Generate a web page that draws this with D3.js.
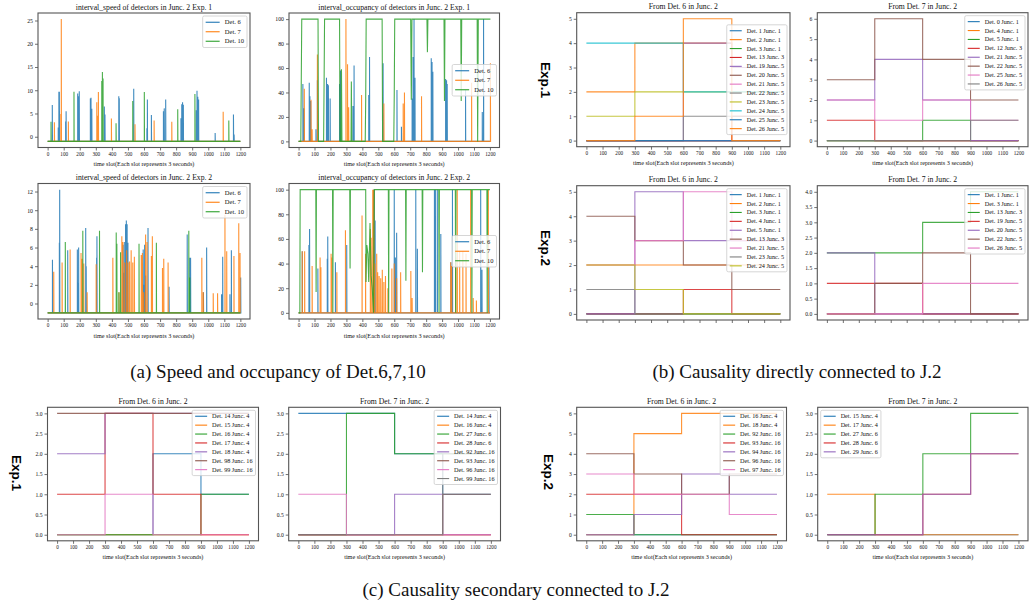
<!DOCTYPE html>
<html>
<head>
<meta charset="utf-8">
<script src="https://cdn.jsdelivr.net/npm/d3@7"></script>
<style>
body { margin: 0; background: #fff; }
svg { display: block; }
</style>
</head>
<body>
<svg id="fig" width="1030" height="605"></svg>
<script>
// ---- data ----
var slotTicks = [0, 100, 200, 300, 400, 500, 600, 700, 800, 900, 1000, 1100, 1200]
var stepSlots = [0, 300, 600, 900, 1200]
var detNames = ['Det. 6', 'Det. 7', 'Det. 10']

// interval speed, Exp. 1  ([time slot, value], baseline -1)
var speed1Det6 = [[29,6.8],[66,2],[70,9.7],[73,9.7],[112,3.3],[115,5.5],[187,9.3],[192,8.7],[197,9.8],[266,8.2],[270,8.4],[275,6],[353,6.5],[357,4.8],[443,8.7],[446,8.3],[536,10.3],[618,1.8],[621,8],[646,4.7],[721,5.5],[726,6.1],[735,8],[830,4],[835,7],[840,7.4],[845,6.9],[925,5.7],[930,9.9],[935,8.6],[940,8],[1043,0.8],[1157,4.8],[1161,0.5]]
var speed1Det7 = [[42,3.1],[82,4.9],[85,25.3],[129,3.3],[306,7.4],[310,4.5],[316,9.6],[397,3.9],[544,2.7],[663,3.5],[773,3.2],[1093,5.4]]
var speed1Det10 = [[21,3.2],[164,9.7],[337,12],[341,13.9],[345,12.5],[426,2.9],[530,7.7],[602,9.6],[810,5.9],[917,9.2],[1128,3.5]]

// interval occupancy, Exp. 1
var occ1Det6 = [[27,47],[33,27],[67,48],[71,37],[76,33],[109,10],[118,50],[175,52],[182,47],[187,46],[198,35],[257,47],[263,58],[341,29],[348,62],[440,38],[445,69],[530,64],[617,42],[645,12],[712,35],[718,69],[724,100],[730,52],[832,68],[837,65],[842,57],[922,51],[928,50],[932,47],[1047,42],[1152,24],[1160,100]]
var occ1Det7 = [[36,43],[78,34],[85,10],[118,71],[297,100],[307,63],[314,28],[395,38],[535,31],[656,31],[664,40],[771,37],[1085,48],[1203,64]]
var occ1Det10 = [[0,0],[14,0],[17,51],[20,100],[122,100],[125,0],[157,0],[160,47],[163,100],[257,100],[260,0],[267,0],[269,59],[272,0],[329,0],[331,49],[334,0],[418,0],[421,34],[424,100],[524,100],[527,0],[597,0],[600,38],[603,100],[703,100],[707,34],[711,100],[805,100],[808,73],[811,100],[912,100],[915,33],[918,100],[1017,100],[1020,33],[1023,100],[1120,100],[1123,0],[1127,100],[1203,100]]

// interval speed, Exp. 2
var speed2Det6 = [[30,4.7],[73,6.5],[75,12.2],[125,5.7],[185,5.8],[190,2.2],[193,6.0],[237,8.1],[240,4],[305,4.9],[307,7.2],[470,6.3],[475,3.3],[480,6.6],[485,8.5],[490,8.9],[495,8.5],[500,6.5],[595,5.8],[600,2],[604,6.3],[610,3],[625,8.1],[756,1.8],[869,7.4],[885,4.9],[890,4.9],[970,1.2],[990,6],[1083,1],[1090,5],[1135,1],[1144,5.7],[1202,2.8]]
var speed2Det7 = [[38,3.4],[90,4.4],[140,5.8],[208,5.4],[215,4.8],[225,4.3],[246,1.2],[302,4.2],[406,4.9],[444,1.2],[462,7.2],[469,6.6],[480,4.4],[492,5.7],[500,4.4],[510,4.5],[520,5.7],[530,4.4],[540,5.0],[583,5.2],[590,5.4],[598,1.2],[610,7.4],[619,6.6],[646,5.1],[652,7.2],[715,3.8],[723,4.8],[750,4.4],[960,4.9],[969,1.2],[1031,1.1],[1058,1.1],[1104,9.5],[1115,5.6],[1160,5.1],[1190,8.6],[1198,5.4]]
var speed2Det10 = [[110,6.6],[219,7.8],[323,7.8],[427,7.6],[431,6.4],[444,1.2],[454,5.5],[569,6.4],[677,6.5],[879,7.8],[885,2.8]]

// interval occupancy, Exp. 2
var occ2Det6 = [[23,50],[65,55],[69,68],[121,36],[180,44],[183,62],[231,41],[302,55],[470,100],[475,100],[480,75],[600,100],[607,45],[615,65],[735,100],[745,52],[852,100],[858,100],[870,100],[892,64],[955,41],[965,100],[1142,100],[1150,35],[1194,37]]
var occ2Det7 = [[23,50],[38,50],[85,38],[135,45],[140,37],[204,48],[208,45],[240,33],[294,67],[398,79],[420,48],[450,68],[455,61],[465,100],[472,100],[478,40],[490,48],[496,33],[505,30],[515,28],[525,35],[535,25],[545,30],[560,20],[585,36],[600,40],[615,28],[640,33],[704,34],[712,12],[954,41],[960,38],[985,45],[995,100],[1010,50],[1030,50],[1050,48],[1079,100],[1095,12],[1115,10],[1190,100]]
var occ2Det10 = [[0,0],[8,0],[10,100],[108,100],[110,17],[112,100],[213,100],[215,0],[217,100],[321,100],[323,36],[325,100],[421,100],[423,25],[428,55],[435,48],[440,25],[448,73],[455,30],[462,20],[470,0],[475,100],[563,100],[565,0],[567,100],[671,100],[673,26],[675,100],[775,100],[777,33],[779,100],[879,100],[881,0],[883,100],[983,100],[985,0],[987,100],[1085,100],[1087,0],[1089,100],[1181,100],[1183,0],[1185,100],[1200,100]]

// causality counts per 300-slot window
var b1Labels = ['Det. 1 Junc. 1','Det. 2 Junc. 1','Det. 3 Junc. 1','Det. 13 Junc. 3','Det. 19 Junc. 5','Det. 20 Junc. 5','Det. 21 Junc. 5','Det. 22 Junc. 5','Det. 23 Junc. 5','Det. 24 Junc. 5','Det. 25 Junc. 5','Det. 26 Junc. 5']
var b1Values = [[0,0,0,0],[2,4,4,3],[0,0,0,0],[0,0,0,1],[0,0,4,3],[0,0,0,0],[0,0,0,0],[0,0,1,1],[1,2,2,2],[4,4,2,2],[0,0,0,0],[0,1,5,0]]
var b2Labels = ['Det. 0 Junc. 1','Det. 4 Junc. 1','Det. 5 Junc. 1','Det. 12 Junc. 3','Det. 21 Junc. 5','Det. 22 Junc. 5','Det. 25 Junc. 5','Det. 26 Junc. 5']
var b2Values = [[0,0,0,0],[0,0,0,0],[0,0,1,0],[1,0,0,0],[2,4,2,0],[3,6,4,2],[2,1,2,1],[0,0,0,1]]
var b3Labels = ['Det. 1 Junc. 1','Det. 2 Junc. 1','Det. 3 Junc. 1','Det. 4 Junc. 1','Det. 5 Junc. 1','Det. 13 Junc. 3','Det. 21 Junc. 5','Det. 23 Junc. 5','Det. 24 Junc. 5']
var b3Values = [[0,0,0,0],[2,2,2,2],[0,0,0,0],[0,0,1,0],[0,5,3,3],[4,3,2,1],[2,3,5,3],[1,0,0,0],[2,1,0,0]]
var b4Labels = ['Det. 1 Junc. 1','Det. 3 Junc. 1','Det. 13 Junc. 3','Det. 19 Junc. 5','Det. 20 Junc. 5','Det. 22 Junc. 5','Det. 26 Junc. 5']
var b4Values = [[0,0,0,0],[0,0,0,0],[2,2,3,4],[1,1,0,0],[2,0,0,0],[0,1,2,0],[0,0,1,1]]
var c1Labels = ['Det. 14 Junc. 4','Det. 15 Junc. 4','Det. 16 Junc. 4','Det. 17 Junc. 4','Det. 18 Junc. 4','Det. 98 Junc. 16','Det. 99 Junc. 16']
var c1Values = [[0,0,2,1],[0,0,0,0],[0,0,0,1],[1,3,1,0],[2,3,3,3],[3,3,3,3],[0,1,0,0]]
var c2Labels = ['Det. 14 Junc. 4','Det. 16 Junc. 4','Det. 27 Junc. 6','Det. 28 Junc. 6','Det. 92 Junc. 16','Det. 93 Junc. 16','Det. 96 Junc. 16','Det. 99 Junc. 16']
var c2Values = [[3,3,2,1],[0,0,0,0],[0,3,2,2],[0,0,0,0],[0,0,1,0],[0,0,0,1],[1,0,0,0],[0,0,0,2]]
var c3Labels = ['Det. 16 Junc. 4','Det. 18 Junc. 4','Det. 92 Junc. 16','Det. 93 Junc. 16','Det. 94 Junc. 16','Det. 96 Junc. 16','Det. 97 Junc. 16']
var c3Values = [[0,0,0,0],[0,5,6,6],[1,0,0,0],[2,2,0,0],[0,1,3,2],[4,3,2,3],[3,2,2,1]]
var c4Labels = ['Det. 15 Junc. 4','Det. 17 Junc. 4','Det. 27 Junc. 6','Det. 28 Junc. 6','Det. 29 Junc. 6']
var c4Values = [[0,0,0,0],[1,0,0,0],[0,1,2,3],[0,0,1,2],[0,0,1,2]]

// ---- drawing ----
var tab10 = ['#1f77b4','#ff7f0e','#2ca02c','#d62728','#9467bd','#8c564b','#e377c2','#7f7f7f','#bcbd22','#17becf']
var serif = '"Liberation Serif", "Times New Roman", serif'
var svg = d3.select('#fig')
var clipN = 0

function padded(lo, hi) {
    var p = (hi - lo) * 0.05
    return [lo - p, hi + p]
}

function axes(box, yDom, yTicks, o) {
    var x = d3.scaleLinear().domain([-60, 1260]).range([box[0], box[1]])
    var y = d3.scaleLinear().domain(yDom).range([box[3], box[2]])
    var g = svg.append('g')
    var id = 'clip' + (clipN++)
    svg.append('clipPath').attr('id', id).append('rect')
        .attr('x', box[0]).attr('y', box[2]).attr('width', box[1]-box[0]).attr('height', box[3]-box[2])

    var xa = g.append('g').attr('transform', 'translate(0,' + box[3] + ')')
        .call(d3.axisBottom(x).tickValues(slotTicks).tickSize(3).tickPadding(1.5)
            .tickFormat(o.noXLabels ? '' : d3.format('d')))
    var ya = g.append('g').attr('transform', 'translate(' + box[0] + ',0)')
        .call(d3.axisLeft(y).tickValues(yTicks).tickSize(3).tickPadding(2)
            .tickFormat(o.yFmt || d3.format('d')))
    g.selectAll('.domain').remove()
    g.selectAll('.tick line').attr('stroke', '#333').attr('stroke-width', 0.7)
    xa.attr('font-family', serif).attr('font-size', o.xfs || 5.2)
    ya.attr('font-family', serif).attr('font-size', o.yfs || 5.6)
    g.selectAll('.tick text').attr('fill', '#111')

    var plot = g.append('g').attr('clip-path', 'url(#' + id + ')')
    g.append('rect').attr('x', box[0]).attr('y', box[2])
        .attr('width', box[1]-box[0]).attr('height', box[3]-box[2])
        .attr('fill', 'none').attr('stroke', '#555').attr('stroke-width', 1.1)

    g.append('text').attr('x', (box[0]+box[1])/2).attr('y', box[2] - 3.5)
        .attr('text-anchor', 'middle').attr('font-family', serif).attr('font-size', 7.7)
        .attr('fill', '#111').text(o.title)
    if (!o.noXLabels) {
        g.append('text').attr('x', (box[0]+box[1])/2).attr('y', box[3] + 18.5)
            .attr('text-anchor', 'middle').attr('font-family', serif).attr('font-size', 6.2)
            .attr('fill', '#111').text('time slot(Each slot represents 3 seconds)')
    }
    return {x: x, y: y, g: g, plot: plot, box: box}
}

function drawLine(ax, pts, color, curve) {
    var line = d3.line().x(function(d){ return ax.x(d[0]) }).y(function(d){ return ax.y(d[1]) })
    if (curve) line.curve(curve)
    ax.plot.append('path').datum(pts).attr('d', line)
        .attr('fill', 'none').attr('stroke', color).attr('stroke-width', 1.1)
        .attr('stroke-opacity', 0.85).attr('stroke-linejoin', 'miter')
}

// spikes rising from a flat baseline
function spikes(list, base) {
    var pts = [[0, base]]
    list.slice().sort(function(a,b){ return a[0]-b[0] }).forEach(function(s) {
        pts.push([s[0], base], [s[0], s[1]], [s[0]+1, base])
    })
    pts.push([1200, base])
    return pts
}

function legend(ax, labels, colors, loc, fs, rowH, handle) {
    var b = ax.box
    var lg = ax.g.append('g')
    var bg = lg.append('rect').attr('fill', '#fff').attr('fill-opacity', 0.8)
        .attr('stroke', '#ccc').attr('stroke-width', 0.8).attr('rx', 1.5)
    var texts = labels.map(function(l, i) {
        return lg.append('text').attr('font-family', serif).attr('font-size', fs)
            .attr('fill', '#111').text(l)
    })
    var tw = d3.max(texts, function(t){ return t.node().getComputedTextLength() })
    var pad = 3, gap = fs * 0.8
    var w = pad*2 + handle + gap + tw
    var h = labels.length * rowH + 3
    var x0, y0
    if (loc === 'upper left') x0 = b[0] + 3
    else x0 = b[1] - 3 - w
    if (loc === 'center right') y0 = (b[2]+b[3])/2 - h/2
    else y0 = b[2] + 3
    bg.attr('x', x0).attr('y', y0).attr('width', w).attr('height', h)
    labels.forEach(function(l, i) {
        var cy = y0 + 1.5 + rowH*(i+0.5)
        lg.append('line').attr('x1', x0+pad).attr('x2', x0+pad+handle)
            .attr('y1', cy).attr('y2', cy).attr('stroke', colors[i]).attr('stroke-width', 1.1)
        texts[i].attr('x', x0+pad+handle+gap).attr('y', cy + fs*0.33)
    })
}

function detPanel(box, title, s6, s7, s10, base, yTicks, loc, isStep10, noXLabels) {
    var all = s6.concat(s7, s10).map(function(d){ return d[1] }).concat([base])
    var ax = axes(box, padded(d3.min(all), d3.max(all)), yTicks, {title: title, noXLabels: noXLabels, yfs: 5.8})
    drawLine(ax, spikes(s6, base), tab10[0])
    drawLine(ax, spikes(s7, base), tab10[1])
    drawLine(ax, isStep10 ? s10 : spikes(s10, base), tab10[2])
    legend(ax, detNames, tab10.slice(0, 3), loc, 6.5, 9.5, 14)
}

function causalPanel(box, title, labels, values, yTicks, yFmt, loc, noXLabels) {
    var mx = d3.max(values, function(v){ return d3.max(v) })
    var ax = axes(box, padded(0, mx), yTicks, {title: title, yFmt: yFmt, noXLabels: noXLabels})
    var colors = labels.map(function(l, i){ return tab10[i % 10] })
    values.forEach(function(v, i) {
        var pts = stepSlots.map(function(t, k){ return [t, v[Math.min(k, 3)]] })
        drawLine(ax, pts, colors[i], d3.curveStepAfter)
    })
    legend(ax, labels, colors, loc, 6.2, 8.9, 12)
}

// (a) speed and occupancy
detPanel([38, 250, 13, 147.5], 'interval_speed of detectors in Junc. 2 Exp. 1',
    speed1Det6, speed1Det7, speed1Det10, -1, [0,5,10,15,20,25], 'upper right', false)
detPanel([289, 499.5, 13, 147.5], 'interval_occupancy of detectors in Junc. 2 Exp. 1',
    occ1Det6, occ1Det7, occ1Det10, 0, [0,20,40,60,80,100], 'center right', true)
detPanel([38, 250, 183.5, 319], 'interval_speed of detectors in Junc. 2 Exp. 2',
    speed2Det6, speed2Det7, speed2Det10, -1, [0,2,4,6,8,10,12], 'upper right', false)
detPanel([289, 499.5, 183.5, 319], 'interval_occupancy of detectors in Junc. 2 Exp. 2',
    occ2Det6, occ2Det7, occ2Det10, 0, [0,20,40,60,80,100], 'center right', true)

// (b) directly connected
var half = [0,0.5,1,1.5,2,2.5,3,3.5,4]
causalPanel([576.7, 790, 12.7, 146.7], 'From Det. 6 in Junc. 2', b1Labels, b1Values, [0,1,2,3,4,5], null, 'center right')
causalPanel([817.3, 1028, 12.7, 146.7], 'From Det. 7 in Junc. 2', b2Labels, b2Values, [0,1,2,3,4,5,6], null, 'upper right')
causalPanel([576.7, 790, 185.7, 320], 'From Det. 6 in Junc. 2', b3Labels, b3Values, [0,1,2,3,4,5], null, 'upper right', true)
causalPanel([817.3, 1028, 185.7, 320], 'From Det. 7 in Junc. 2', b4Labels, b4Values, half, d3.format('.1f'), 'upper right', true)

// (c) secondary connected
var third = [0,0.5,1,1.5,2,2.5,3]
causalPanel([47.5, 258.5, 407.3, 540.8], 'From Det. 6 in Junc. 2', c1Labels, c1Values, third, d3.format('.1f'), 'upper right')
causalPanel([288.7, 500.5, 407.3, 540.8], 'From Det. 7 in Junc. 2', c2Labels, c2Values, third, d3.format('.1f'), 'upper right')
causalPanel([576.7, 786.5, 407.3, 540.8], 'From Det. 6 in Junc. 2', c3Labels, c3Values, [0,1,2,3,4,5,6], null, 'upper right')
causalPanel([817.7, 1028, 407.3, 540.8], 'From Det. 7 in Junc. 2', c4Labels, c4Values, third, d3.format('.1f'), 'upper left')

// row labels and captions
var expLabels = [['Exp.1', 545.5, 80], ['Exp.2', 545.5, 248], ['Exp.1', 16.5, 473], ['Exp.2', 548.5, 472]]
expLabels.forEach(function(e) {
    svg.append('text').attr('transform', 'translate(' + e[1] + ',' + e[2] + ') rotate(90)')
        .attr('text-anchor', 'middle').attr('dy', '0.35em')
        .attr('font-family', '"Liberation Sans", Arial, sans-serif').attr('font-weight', 'bold')
        .attr('font-size', 13.5).attr('fill', '#000').text(e[0])
})
var captions = [['(a) Speed and occupancy of Det.6,7,10', 278, 378], ['(b) Causality directly connected to J.2', 797, 378], ['(c) Causality secondary connected to J.2', 516, 596]]
captions.forEach(function(c) {
    svg.append('text').attr('x', c[1]).attr('y', c[2]).attr('text-anchor', 'middle')
        .attr('font-family', serif).attr('font-size', 19).attr('fill', '#111').text(c[0])
})
</script>
</body>
</html>
